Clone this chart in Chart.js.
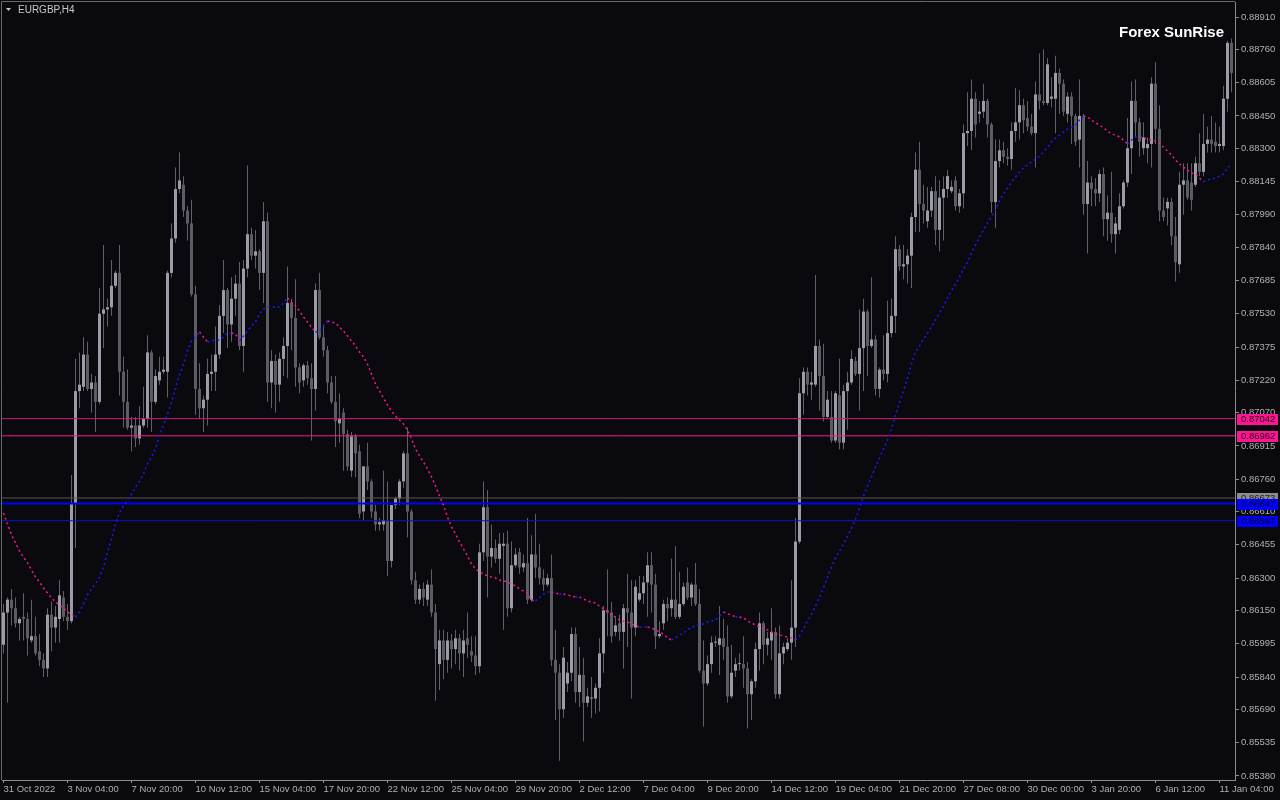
<!DOCTYPE html>
<html>
<head>
<meta charset="utf-8">
<title>EURGBP,H4</title>
<script src="https://cdn.jsdelivr.net/npm/chart.js@4.4.1/dist/chart.umd.min.js"></script>
<style>
  html, body { margin: 0; padding: 0; background: #0a0a0e; }
  canvas { display: block; }
</style>
</head>
<body>
<canvas id="priceChart" width="1280" height="800"></canvas>
<script>
// EURGBP H4 bars (bar index 0 = 31 Oct 2022)
const opens = [
  0.8599,0.8614,0.8620,0.8616,0.8609,0.8612,0.8611,0.8601,0.8603,0.8596,
  0.8592,0.8588,0.8613,0.8607,0.8611,0.8621,0.8612,0.8610,0.8665,0.8717,
  0.8719,0.8734,0.8718,0.8721,0.8712,0.8753,0.8755,0.8756,0.8766,0.8772,
  0.8726,0.8712,0.8700,0.8701,0.8695,0.8701,0.8704,0.8735,0.8712,0.8722,
  0.8726,0.8726,0.8772,0.8788,0.8811,0.8813,0.8801,0.8795,0.8762,0.8718,
  0.8709,0.8713,0.8725,0.8726,0.8734,0.8752,0.8764,0.8748,0.8760,0.8767,
  0.8738,0.8774,0.8790,0.8780,0.8782,0.8772,0.8796,0.8721,0.8731,0.8720,
  0.8732,0.8738,0.8758,0.8751,0.8728,0.8722,0.8729,0.8723,0.8718,0.8764,
  0.8742,0.8736,0.8721,0.8712,0.8702,0.8707,0.8697,0.8680,0.8696,0.8689,
  0.8661,0.8682,0.8675,0.8661,0.8655,0.8655,0.8657,0.8638,0.8664,0.8667,
  0.8675,0.8688,0.8661,0.8629,0.8620,0.8625,0.8620,0.8627,0.8614,0.8590,
  0.8601,0.8592,0.8601,0.8597,0.8602,0.8595,0.8602,0.8596,0.8594,0.8589,
  0.8642,0.8663,0.8640,0.8644,0.8639,0.8645,0.8646,0.8616,0.8636,0.8642,
  0.8635,0.8637,0.8620,0.8641,0.8635,0.8630,0.8627,0.8630,0.8592,0.8586,
  0.8569,0.8581,0.8586,0.8604,0.8577,0.8585,0.8572,0.8574,0.8574,0.8579,
  0.8595,0.8615,0.8614,0.8605,0.8609,0.8605,0.8616,0.8614,0.8607,0.8620,
  0.8623,0.8628,0.8636,0.8627,0.8603,0.8609,0.8618,0.8616,0.8620,0.8612,
  0.8618,0.8628,0.8621,0.8627,0.8618,0.8587,0.8581,0.8590,0.8600,0.8599,
  0.8602,0.8598,0.8575,0.8587,0.8590,0.8590,0.8588,0.8576,0.8582,0.8597,
  0.8609,0.8599,0.8601,0.8605,0.8576,0.8595,0.8597,0.8600,0.8607,0.8647,
  0.8716,0.8726,0.8720,0.8720,0.8738,0.8724,0.8705,0.8705,0.8694,0.8715,
  0.8693,0.8717,0.8721,0.8731,0.8725,0.8737,0.8754,0.8738,0.8741,0.8718,
  0.8727,0.8725,0.8744,0.8752,0.8783,0.8775,0.8776,0.8780,0.8798,0.8820,
  0.8804,0.8796,0.8801,0.8810,0.8792,0.8807,0.8811,0.8810,0.8815,0.8803,
  0.8809,0.8837,0.8838,0.8853,0.8846,0.8847,0.8852,0.8841,0.8805,0.8824,
  0.8829,0.8826,0.8825,0.8838,0.8842,0.8850,0.8844,0.8840,0.8837,0.8855,
  0.8852,0.8851,0.8853,0.8853,0.8865,0.8860,0.8846,0.8854,0.8845,0.8834,
  0.8845,0.8804,0.8814,0.8811,0.8809,0.8818,0.8797,0.8800,0.8790,0.8792,
  0.8803,0.8814,0.8830,0.8852,0.8842,0.8830,0.8830,0.8832,0.8860,0.8839,
  0.8801,0.8802,0.8805,0.8789,0.8776,0.8813,0.8815,0.8814,0.8813,0.8823,
  0.8819,0.8832,0.8834,0.8833,0.8831,0.8831,0.8853,0.8879
];
const highs = [
  0.8618,0.8621,0.8625,0.8621,0.8612,0.8623,0.8614,0.8620,0.8612,0.8604,
  0.8595,0.8616,0.8619,0.8617,0.8629,0.8624,0.8618,0.8678,0.8732,0.8735,
  0.8742,0.8740,0.8725,0.8724,0.8765,0.8785,0.8760,0.8778,0.8773,0.8785,
  0.8733,0.8727,0.8705,0.8705,0.8710,0.8719,0.8743,0.8736,0.8727,0.8733,
  0.8733,0.8773,0.8795,0.8821,0.8828,0.8817,0.8803,0.8806,0.8766,0.8730,
  0.8715,0.8732,0.8734,0.8747,0.8757,0.8778,0.8765,0.8770,0.8771,0.8777,
  0.8778,0.8822,0.8793,0.8792,0.8783,0.8805,0.8800,0.8736,0.8734,0.8735,
  0.8742,0.8775,0.8760,0.8769,0.8730,0.8730,0.8731,0.8730,0.8767,0.8772,
  0.8748,0.8738,0.8724,0.8724,0.8716,0.8709,0.8699,0.8698,0.8697,0.8692,
  0.8682,0.8693,0.8676,0.8664,0.8658,0.8680,0.8675,0.8664,0.8668,0.8676,
  0.8689,0.8700,0.8662,0.8633,0.8627,0.8628,0.8629,0.8634,0.8618,0.8606,
  0.8606,0.8605,0.8604,0.8606,0.8604,0.8606,0.8614,0.8603,0.8603,0.8646,
  0.8675,0.8671,0.8655,0.8648,0.8651,0.8651,0.8652,0.8647,0.8644,0.8644,
  0.8641,0.8658,0.8650,0.8660,0.8646,0.8634,0.8632,0.8641,0.8606,0.8590,
  0.8598,0.8591,0.8607,0.8607,0.8598,0.8593,0.8579,0.8584,0.8581,0.8602,
  0.8617,0.8634,0.8619,0.8612,0.8613,0.8618,0.8632,0.8629,0.8629,0.8631,
  0.8631,0.8642,0.8642,0.8632,0.8610,0.8620,0.8621,0.8639,0.8645,0.8633,
  0.8628,0.8635,0.8628,0.8637,0.8625,0.8601,0.8594,0.8603,0.8603,0.8617,
  0.8611,0.8608,0.8599,0.8593,0.8595,0.8603,0.8591,0.8583,0.8600,0.8614,
  0.8610,0.8605,0.8616,0.8607,0.8608,0.8600,0.8602,0.8629,0.8658,0.8723,
  0.8728,0.8728,0.8726,0.8771,0.8741,0.8739,0.8717,0.8717,0.8717,0.8732,
  0.8720,0.8726,0.8736,0.8733,0.8755,0.8760,0.8755,0.8770,0.8743,0.8728,
  0.8743,0.8759,0.8760,0.8789,0.8785,0.8785,0.8783,0.8800,0.8828,0.8833,
  0.8813,0.8812,0.8812,0.8817,0.8815,0.8817,0.8820,0.8815,0.8817,0.8811,
  0.8841,0.8856,0.8862,0.8856,0.8852,0.8860,0.8853,0.8842,0.8834,0.8834,
  0.8833,0.8830,0.8842,0.8858,0.8857,0.8853,0.8852,0.8846,0.8861,0.8874,
  0.8876,0.8872,0.8863,0.8873,0.8867,0.8862,0.8856,0.8856,0.8846,0.8862,
  0.8846,0.8824,0.8817,0.8816,0.8820,0.8821,0.8808,0.8819,0.8798,0.8809,
  0.8815,0.8844,0.8861,0.8862,0.8844,0.8842,0.8835,0.8863,0.8870,0.8850,
  0.8807,0.8807,0.8807,0.8798,0.8819,0.8823,0.8823,0.8823,0.8826,0.8837,
  0.8846,0.8840,0.8845,0.8842,0.8840,0.8859,0.8880,0.8881
];
const lows = [
  0.8595,0.8572,0.8608,0.8607,0.8601,0.8601,0.8594,0.8600,0.8594,0.8589,
  0.8584,0.8584,0.8596,0.8600,0.8600,0.8610,0.8606,0.8609,0.8644,0.8709,
  0.8717,0.8717,0.8707,0.8698,0.8711,0.8737,0.8747,0.8752,0.8765,0.8715,
  0.8700,0.8699,0.8689,0.8691,0.8692,0.8700,0.8700,0.8698,0.8711,0.8720,
  0.8725,0.8714,0.8770,0.8786,0.8809,0.8798,0.8787,0.8761,0.8706,0.8704,
  0.8698,0.8701,0.8717,0.8717,0.8732,0.8744,0.8737,0.8740,0.8752,0.8736,
  0.8726,0.8770,0.8778,0.8774,0.8764,0.8758,0.8712,0.8709,0.8707,0.8712,
  0.8724,0.8723,0.8736,0.8719,0.8716,0.8719,0.8720,0.8694,0.8708,0.8741,
  0.8733,0.8716,0.8711,0.8691,0.8693,0.8680,0.8680,0.8677,0.8677,0.8658,
  0.8657,0.8671,0.8658,0.8652,0.8652,0.8652,0.8631,0.8635,0.8662,0.8664,
  0.8672,0.8649,0.8627,0.8618,0.8618,0.8617,0.8617,0.8612,0.8573,0.8578,
  0.8583,0.8586,0.8588,0.8590,0.8587,0.8584,0.8593,0.8591,0.8585,0.8586,
  0.8638,0.8621,0.8635,0.8637,0.8632,0.8606,0.8612,0.8614,0.8635,0.8632,
  0.8633,0.8618,0.8619,0.8630,0.8627,0.8624,0.8626,0.8589,0.8564,0.8545,
  0.8565,0.8577,0.8582,0.8572,0.8570,0.8554,0.8570,0.8565,0.8567,0.8568,
  0.8586,0.8603,0.8600,0.8603,0.8601,0.8588,0.8598,0.8574,0.8603,0.8619,
  0.8618,0.8612,0.8614,0.8597,0.8602,0.8606,0.8610,0.8612,0.8611,0.8611,
  0.8617,0.8620,0.8617,0.8617,0.8586,0.8561,0.8580,0.8586,0.8598,0.8585,
  0.8592,0.8572,0.8574,0.8584,0.8587,0.8579,0.8560,0.8564,0.8579,0.8587,
  0.8590,0.8594,0.8592,0.8574,0.8574,0.8590,0.8596,0.8592,0.8598,0.8646,
  0.8706,0.8715,0.8713,0.8719,0.8708,0.8703,0.8704,0.8693,0.8693,0.8690,
  0.8690,0.8699,0.8720,0.8724,0.8708,0.8717,0.8724,0.8737,0.8715,0.8714,
  0.8722,0.8721,0.8742,0.8744,0.8773,0.8769,0.8767,0.8765,0.8791,0.8791,
  0.8795,0.8793,0.8798,0.8785,0.8782,0.8787,0.8807,0.8809,0.8801,0.8800,
  0.8802,0.8831,0.8829,0.8835,0.8842,0.8844,0.8835,0.8800,0.8793,0.8821,
  0.8823,0.8822,0.8820,0.8833,0.8834,0.8837,0.8838,0.8836,0.8821,0.8848,
  0.8850,0.8850,0.8849,0.8837,0.8846,0.8845,0.8842,0.8832,0.8831,0.8821,
  0.8799,0.8781,0.8803,0.8803,0.8805,0.8789,0.8787,0.8786,0.8781,0.8790,
  0.8802,0.8812,0.8818,0.8835,0.8826,0.8827,0.8823,0.8821,0.8832,0.8796,
  0.8796,0.8794,0.8785,0.8768,0.8772,0.8799,0.8806,0.8801,0.8812,0.8817,
  0.8817,0.8828,0.8828,0.8828,0.8828,0.8829,0.8847,0.8856
];
const closes = [
  0.8614,0.8620,0.8616,0.8609,0.8611,0.8611,0.8602,0.8603,0.8595,0.8592,
  0.8588,0.8613,0.8607,0.8612,0.8622,0.8612,0.8610,0.8665,0.8717,0.8720,
  0.8734,0.8718,0.8721,0.8712,0.8753,0.8755,0.8756,0.8766,0.8772,0.8726,
  0.8712,0.8700,0.8701,0.8695,0.8701,0.8704,0.8735,0.8712,0.8724,0.8726,
  0.8727,0.8772,0.8788,0.8811,0.8815,0.8801,0.8795,0.8762,0.8718,0.8709,
  0.8713,0.8725,0.8726,0.8734,0.8752,0.8764,0.8748,0.8760,0.8767,0.8738,
  0.8774,0.8790,0.8780,0.8782,0.8772,0.8796,0.8721,0.8731,0.8720,0.8732,
  0.8738,0.8758,0.8751,0.8728,0.8721,0.8729,0.8723,0.8718,0.8764,0.8742,
  0.8736,0.8721,0.8712,0.8703,0.8704,0.8697,0.8682,0.8696,0.8688,0.8660,
  0.8682,0.8675,0.8661,0.8655,0.8656,0.8657,0.8638,0.8664,0.8667,0.8675,
  0.8688,0.8661,0.8629,0.8620,0.8625,0.8621,0.8627,0.8614,0.8597,0.8601,
  0.8592,0.8601,0.8597,0.8602,0.8595,0.8601,0.8599,0.8594,0.8589,0.8642,
  0.8663,0.8640,0.8644,0.8639,0.8646,0.8646,0.8616,0.8636,0.8641,0.8635,
  0.8637,0.8620,0.8641,0.8635,0.8630,0.8627,0.8630,0.8592,0.8586,0.8569,
  0.8593,0.8586,0.8604,0.8577,0.8585,0.8572,0.8575,0.8574,0.8579,0.8595,
  0.8615,0.8614,0.8603,0.8608,0.8605,0.8616,0.8614,0.8607,0.8626,0.8623,
  0.8628,0.8636,0.8627,0.8603,0.8604,0.8618,0.8616,0.8620,0.8612,0.8618,
  0.8626,0.8621,0.8627,0.8618,0.8587,0.8581,0.8590,0.8600,0.8600,0.8602,
  0.8598,0.8575,0.8586,0.8590,0.8590,0.8588,0.8576,0.8582,0.8597,0.8609,
  0.8599,0.8602,0.8605,0.8576,0.8595,0.8598,0.8600,0.8607,0.8647,0.8716,
  0.8726,0.8720,0.8721,0.8738,0.8724,0.8705,0.8713,0.8694,0.8716,0.8693,
  0.8717,0.8721,0.8732,0.8725,0.8737,0.8754,0.8738,0.8741,0.8718,0.8727,
  0.8725,0.8744,0.8752,0.8783,0.8775,0.8776,0.8780,0.8798,0.8820,0.8804,
  0.8801,0.8801,0.8810,0.8792,0.8807,0.8811,0.8817,0.8812,0.8803,0.8809,
  0.8837,0.8838,0.8853,0.8841,0.8847,0.8852,0.8841,0.8805,0.8824,0.8829,
  0.8826,0.8825,0.8838,0.8842,0.8850,0.8843,0.8840,0.8837,0.8855,0.8852,
  0.8851,0.8869,0.8854,0.8865,0.8860,0.8847,0.8854,0.8845,0.8833,0.8845,
  0.8804,0.8814,0.8811,0.8809,0.8818,0.8797,0.8800,0.8790,0.8795,0.8803,
  0.8814,0.8830,0.8852,0.8842,0.8833,0.8835,0.8832,0.8860,0.8839,0.8801,
  0.8798,0.8805,0.8789,0.8777,0.8813,0.8815,0.8807,0.8806,0.8823,0.8819,
  0.8832,0.8834,0.8832,0.8831,0.8832,0.8853,0.8879,0.8865
];
// dotted trend average (pink while falling, blue while rising)
const maValues = [
  0.86603,0.86552,0.86501,0.86464,0.86426,0.86398,0.86371,0.86338,0.86305,0.86282,
  0.86254,0.86231,0.86208,0.86189,0.86175,0.86161,0.86143,0.86129,0.86119,0.86143,
  0.86180,0.86222,0.86250,0.86273,0.86305,0.86352,0.86422,0.86482,0.86552,0.86603,
  0.86636,0.86664,0.86691,0.86724,0.86752,0.86784,0.86831,0.86864,0.86901,0.86966,
  0.87012,0.87064,0.87119,0.87184,0.87245,0.87296,0.87357,0.87403,0.87422,0.87445,
  0.87422,0.87398,0.87403,0.87408,0.87408,0.87422,0.87440,0.87440,0.87436,0.87403,
  0.87426,0.87450,0.87473,0.87491,0.87529,0.87552,0.87561,0.87561,0.87561,0.87561,
  0.87580,0.87603,0.87584,0.87566,0.87543,0.87515,0.87491,0.87468,0.87445,0.87450,
  0.87473,0.87496,0.87491,0.87487,0.87468,0.87450,0.87426,0.87403,0.87380,0.87352,
  0.87329,0.87296,0.87250,0.87203,0.87171,0.87138,0.87105,0.87077,0.87054,0.87036,
  0.87017,0.86989,0.86947,0.86901,0.86868,0.86840,0.86808,0.86771,0.86729,0.86682,
  0.86640,0.86584,0.86538,0.86505,0.86468,0.86436,0.86403,0.86366,0.86343,0.86329,
  0.86319,0.86310,0.86305,0.86301,0.86291,0.86287,0.86282,0.86273,0.86264,0.86250,
  0.86240,0.86231,0.86198,0.86194,0.86208,0.86226,0.86236,0.86236,0.86231,0.86226,
  0.86226,0.86222,0.86217,0.86212,0.86212,0.86203,0.86194,0.86189,0.86184,0.86170,
  0.86157,0.86147,0.86129,0.86119,0.86105,0.86101,0.86096,0.86087,0.86078,0.86073,
  0.86073,0.86073,0.86068,0.86059,0.86050,0.86040,0.86022,0.86012,0.86022,0.86036,
  0.86045,0.86059,0.86073,0.86078,0.86087,0.86087,0.86096,0.86101,0.86105,0.86124,
  0.86143,0.86133,0.86129,0.86119,0.86119,0.86115,0.86101,0.86091,0.86082,0.86073,
  0.86068,0.86059,0.86050,0.86040,0.86036,0.86031,0.86026,0.86022,0.86012,0.86031,
  0.86064,0.86101,0.86133,0.86170,0.86212,0.86254,0.86305,0.86352,0.86394,0.86426,
  0.86459,0.86496,0.86533,0.86575,0.86626,0.86682,0.86729,0.86771,0.86817,0.86859,
  0.86901,0.86943,0.86998,0.87059,0.87115,0.87171,0.87231,0.87296,0.87352,0.87380,
  0.87412,0.87440,0.87468,0.87501,0.87533,0.87566,0.87603,0.87636,0.87668,0.87701,
  0.87738,0.87770,0.87812,0.87850,0.87887,0.87919,0.87952,0.87984,0.88012,0.88054,
  0.88087,0.88115,0.88143,0.88166,0.88189,0.88208,0.88222,0.88236,0.88250,0.88263,
  0.88282,0.88305,0.88329,0.88347,0.88361,0.88375,0.88389,0.88398,0.88408,0.88431,
  0.88450,0.88445,0.88431,0.88417,0.88408,0.88394,0.88380,0.88366,0.88361,0.88352,
  0.88338,0.88319,0.88338,0.88352,0.88352,0.88347,0.88343,0.88338,0.88333,0.88324,
  0.88305,0.88287,0.88268,0.88245,0.88226,0.88212,0.88198,0.88184,0.88180,0.88161,
  0.88143,0.88152,0.88157,0.88161,0.88170,0.88180,0.88208,0.88226
];

// time axis: one label every 16 bars
const dateTickIdx = [0,16,32,48,64,80,96,112,128,144,160,176,192,208,224,240,256,272,288,304];
const dateLabels = [
  '31 Oct 2022','3 Nov 04:00','7 Nov 20:00','10 Nov 12:00','15 Nov 04:00',
  '17 Nov 20:00','22 Nov 12:00','25 Nov 04:00','29 Nov 20:00','2 Dec 12:00',
  '7 Dec 04:00','9 Dec 20:00','14 Dec 12:00','19 Dec 04:00','21 Dec 20:00',
  '27 Dec 08:00','30 Dec 00:00','3 Jan 20:00','6 Jan 12:00','11 Jan 04:00'
];
const priceTicks = [
  0.88910,0.88760,0.88605,0.88450,0.88300,0.88145,0.87990,0.87840,
  0.87685,0.87530,0.87375,0.87220,0.87070,0.86915,0.86760,0.86610,
  0.86455,0.86300,0.86150,0.85995,0.85840,0.85690,0.85535,0.85380
];
// horizontal levels drawn across the chart
const levelPrices = [0.86673, 0.86647, 0.86567, 0.87042, 0.86962];

const levelStyles = [
  { line: '#55555d', width: 1, box: '#8c8c8c', text: '#202020' },
  { line: '#0000ff', width: 2, box: '#0000ff', text: '#000018' },
  { line: '#1010c8', width: 1, box: '#0000ff', text: '#000018' },
  { line: '#d0157a', width: 1, box: '#ff1493', text: '#200010' },
  { line: '#ff1493', width: 1, box: '#ff1493', text: '#200010' }
];

const bullColor = '#9c9ca8';
const bearColor = '#5c5c63';
const wickColor = '#606067';
const maUp = '#1a1aff';
const maDown = '#ff1493';
const axisText = '#b0b0b0';
const axisLine = '#8c8c8c';

const xMin = -0.375;
const xMax = opens.length - 1 + 0.875;
const yMin = 0.85361;
const yMax = 0.88980;

const idx = opens.map((_, i) => i);

const levelSets = levelPrices.map((p, k) => ({
  type: 'line',
  label: 'level ' + p,
  data: [{ x: xMin, y: p }, { x: xMax, y: p }],
  borderColor: levelStyles[k].line,
  borderWidth: levelStyles[k].width,
  pointRadius: 0,
  order: 1
}));

const decor = {
  id: 'decor',
  beforeDraw(chart) {
    const c = chart.ctx;
    c.save();
    c.fillStyle = '#0a0a0e';
    c.fillRect(0, 0, chart.width, chart.height);
    c.restore();
  },
  afterDraw(chart) {
    const c = chart.ctx;
    const a = chart.chartArea;
    const ys = chart.scales.y;
    c.save();
    // left and top frame
    c.strokeStyle = '#6a6a6a';
    c.lineWidth = 1;
    c.beginPath();
    c.moveTo(1.5, a.bottom);
    c.lineTo(1.5, 1.5);
    c.lineTo(a.right, 1.5);
    c.stroke();

    // symbol caption
    c.fillStyle = '#c8c8c8';
    c.beginPath();
    c.moveTo(6, 8); c.lineTo(11, 8); c.lineTo(8.5, 11); c.closePath();
    c.fill();
    c.font = '10px "Liberation Sans"';
    c.textBaseline = 'middle';
    c.textAlign = 'left';
    c.fillText('EURGBP,H4', 18, 10.5);

    // watermark
    c.font = 'bold 15px "Liberation Sans"';
    c.fillStyle = '#ffffff';
    c.textAlign = 'right';
    c.fillText('Forex SunRise', 1224, 32.5);

    // price boxes on the axis
    c.font = '9.5px "Liberation Sans"';
    c.textAlign = 'left';
    levelPrices.forEach((p, k) => {
      const y = Math.round(ys.getPixelForValue(p));
      c.fillStyle = levelStyles[k].box;
      c.fillRect(a.right + 2, y - 5, 41, 11);
      c.fillStyle = levelStyles[k].text;
      c.fillText(p.toFixed(5), a.right + 6, y + 0.5);
    });
    c.restore();
  }
};

Chart.defaults.font.family = '"Liberation Sans", Arial, sans-serif';

new Chart(document.getElementById('priceChart').getContext('2d'), {
  type: 'bar',
  data: {
    datasets: [
      {
        type: 'line',
        label: 'trend',
        data: idx.map(i => ({ x: i, y: maValues[i] })),
        borderWidth: 1.5,
        borderDash: [2, 3],
        borderColor: maDown,
        pointRadius: 0,
        segment: {
          borderColor: s => (s.p1.parsed.y >= s.p0.parsed.y ? maUp : maDown)
        },
        order: 0
      },
      ...levelSets,
      {
        label: 'body',
        data: idx.map(i => ({ x: i, y: [opens[i], closes[i]] })),
        backgroundColor: ctx => (closes[ctx.dataIndex] >= opens[ctx.dataIndex] ? bullColor : bearColor),
        barThickness: 3,
        minBarLength: 1,
        borderWidth: 0,
        inflateAmount: 0,
        grouped: false,
        order: 2
      },
      {
        label: 'wick',
        data: idx.map(i => ({ x: i, y: [lows[i], highs[i]] })),
        backgroundColor: wickColor,
        barThickness: 1,
        borderWidth: 0,
        inflateAmount: 0,
        grouped: false,
        order: 3
      }
    ]
  },
  options: {
    responsive: false,
    animation: false,
    layout: { padding: { left: 2, top: 2, right: 0, bottom: 0 } },
    plugins: { legend: { display: false }, tooltip: { enabled: false } },
    scales: {
      x: {
        type: 'linear',
        min: xMin,
        max: xMax,
        bounds: 'data',
        offset: false,
        grid: { offset: false, drawOnChartArea: false, tickLength: 3, color: axisLine },
        border: { color: axisLine },
        afterBuildTicks: s => { s.ticks = dateTickIdx.map(v => ({ value: v })); },
        afterFit: s => { s.height = 20; s.paddingLeft = 0; s.paddingRight = 0; },
        ticks: {
          autoSkip: false,
          maxRotation: 0,
          minRotation: 0,
          align: 'start',
          padding: 1,
          color: axisText,
          font: { size: 9.5 },
          callback: v => {
            const k = dateTickIdx.indexOf(v);
            return k >= 0 ? dateLabels[k] : '';
          }
        }
      },
      y: {
        type: 'linear',
        position: 'right',
        min: yMin,
        max: yMax,
        bounds: 'data',
        beginAtZero: false,
        grid: { drawOnChartArea: false, tickLength: 4, color: axisLine },
        border: { color: axisLine },
        afterBuildTicks: s => { s.ticks = priceTicks.map(v => ({ value: v })); },
        afterFit: s => { s.width = 45; s.paddingTop = 0; s.paddingBottom = 0; },
        ticks: {
          autoSkip: false,
          padding: 2,
          color: axisText,
          font: { size: 9.5 },
          callback: v => v.toFixed(5)
        }
      }
    }
  },
  plugins: [decor]
});
</script>
</body>
</html>
